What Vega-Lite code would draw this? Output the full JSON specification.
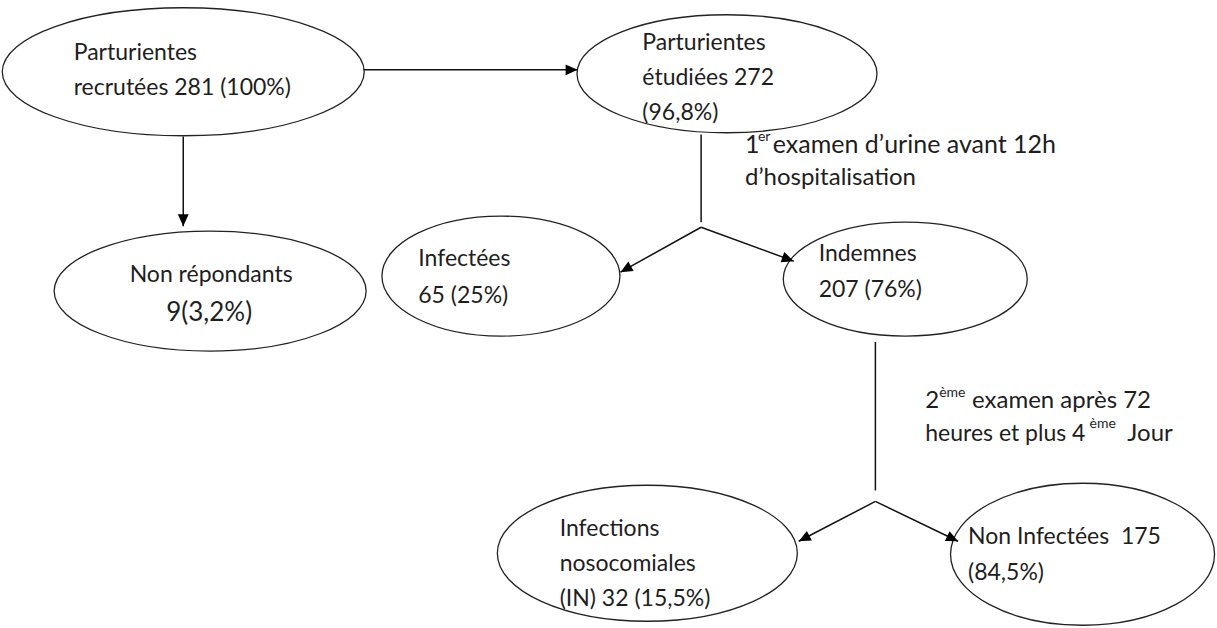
{
  "$schema": "https://vega.github.io/schema/vega-lite/v6.json",
  "width": 1217,
  "height": 628,
  "autosize": {"type": "fit", "contains": "padding"},
  "padding": 0,
  "background": "white",
  "config": {"view": {"stroke": null}},
  "datasets": {
    "nodes": [
      {"id": "recrutees", "x": 182, "y": 72},
      {"id": "etudiees", "x": 728, "y": 74},
      {"id": "nonrep", "x": 209, "y": 292},
      {"id": "infectees", "x": 501, "y": 277},
      {"id": "indemnes", "x": 907, "y": 280},
      {"id": "nosocomiales", "x": 648, "y": 555},
      {"id": "noninfectees", "x": 1085, "y": 556}
    ],
    "edges": [
      {"x": 363, "y": 70, "x2": 578, "y2": 70, "angle": 90},
      {"x": 182, "y": 137, "x2": 182, "y2": 227, "angle": 180},
      {"x": 702, "y": 135, "x2": 702, "y2": 223, "angle": null},
      {"x": 702, "y": 228, "x2": 621, "y2": 273, "angle": 241},
      {"x": 702, "y": 228, "x2": 795, "y2": 262, "angle": 110},
      {"x": 877, "y": 343, "x2": 877, "y2": 492, "angle": null},
      {"x": 877, "y": 503, "x2": 800, "y2": 543, "angle": 242.5},
      {"x": 877, "y": 503, "x2": 960, "y2": 543, "angle": 115.7}
    ],
    "labels": [
      {"t": "Parturientes", "x": 72, "y": 60, "k": "l"},
      {"t": "recrutées 281 (100%)", "x": 72, "y": 95, "k": "l"},
      {"t": "Parturientes", "x": 643, "y": 50, "k": "l"},
      {"t": "étudiées 272", "x": 643, "y": 85, "k": "l"},
      {"t": "(96,8%)", "x": 643, "y": 120, "k": "l"},
      {"t": "Non répondants", "x": 210, "y": 283, "k": "c"},
      {"t": "9(3,2%)", "x": 208, "y": 322, "k": "c2"},
      {"t": "Infectées", "x": 418, "y": 267, "k": "l"},
      {"t": "65 (25%)", "x": 418, "y": 304, "k": "l"},
      {"t": "Indemnes", "x": 820, "y": 262, "k": "l"},
      {"t": "207 (76%)", "x": 820, "y": 298, "k": "l"},
      {"t": "1", "x": 746, "y": 153, "k": "a"},
      {"t": "er", "x": 759, "y": 141, "k": "s"},
      {"t": "examen d’urine avant 12h", "x": 774, "y": 153, "k": "a"},
      {"t": "d’hospitalisation", "x": 746, "y": 186, "k": "b"},
      {"t": "2", "x": 927, "y": 409, "k": "b"},
      {"t": "ème", "x": 941, "y": 398, "k": "s"},
      {"t": "examen après 72", "x": 974, "y": 409, "k": "b"},
      {"t": "heures et plus 4", "x": 927, "y": 442, "k": "l"},
      {"t": "ème", "x": 1092, "y": 429, "k": "s"},
      {"t": "Jour", "x": 1130, "y": 442, "k": "b"},
      {"t": "Infections", "x": 560, "y": 538, "k": "l"},
      {"t": "nosocomiales", "x": 560, "y": 573, "k": "l"},
      {"t": "(IN) 32 (15,5%)", "x": 560, "y": 608, "k": "l"},
      {"t": "Non Infectées\u00a0 175", "x": 970, "y": 546, "k": "l"},
      {"t": "(84,5%)", "x": 970, "y": 582, "k": "l"}
    ]
  },
  "encoding": {
    "x": {"field": "x", "type": "quantitative", "scale": {"domain": [0, 1217], "nice": false, "zero": false}, "axis": null},
    "y": {"field": "y", "type": "quantitative", "scale": {"domain": [0, 628], "nice": false, "zero": false, "reverse": true}, "axis": null}
  },
  "layer": [
    {
      "data": {"name": "nodes"},
      "mark": {"type": "point", "filled": false, "fill": "white", "fillOpacity": 1, "stroke": "#222222", "strokeWidth": 1.3, "opacity": 1, "size": 4},
      "encoding": {
        "shape": {
          "field": "id",
          "type": "nominal",
          "legend": null,
          "scale": {
            "domain": ["recrutees", "etudiees", "nonrep", "infectees", "indemnes", "nosocomiales", "noninfectees"],
            "range": [
              "M-181,0C-181,-35.3,-100,-64,0,-64C100,-64,181,-35.3,181,0C181,35.3,100,64,0,64C-100,64,-181,35.3,-181,0Z",
              "M-150,0C-150,-32.6,-82.8,-59,0,-59C82.8,-59,150,-32.6,150,0C150,32.6,82.8,59,0,59C-82.8,59,-150,32.6,-150,0Z",
              "M-156,0C-156,-33.1,-86.2,-60,0,-60C86.2,-60,156,-33.1,156,0C156,33.1,86.2,60,0,60C-86.2,60,-156,33.1,-156,0Z",
              "M-119,0C-119,-33.1,-65.7,-60,0,-60C65.7,-60,119,-33.1,119,0C119,33.1,65.7,60,0,60C-65.7,60,-119,33.1,-119,0Z",
              "M-122,0C-122,-31.5,-67.4,-57,0,-57C67.4,-57,122,-31.5,122,0C122,31.5,67.4,57,0,57C-67.4,57,-122,31.5,-122,0Z",
              "M-150,0C-150,-37.6,-82.8,-68,0,-68C82.8,-68,150,-37.6,150,0C150,37.6,82.8,68,0,68C-82.8,68,-150,37.6,-150,0Z",
              "M-132,0C-132,-39.2,-72.9,-71,0,-71C72.9,-71,132,-39.2,132,0C132,39.2,72.9,71,0,71C-72.9,71,-132,39.2,-132,0Z"
            ]
          }
        }
      }
    },
    {
      "data": {"name": "edges"},
      "mark": {"type": "rule", "color": "#111111", "strokeWidth": 1.5},
      "encoding": {
        "x2": {"field": "x2"},
        "y2": {"field": "y2"}
      }
    },
    {
      "data": {"name": "edges"},
      "transform": [{"filter": "datum.angle != null"}],
      "mark": {"type": "point", "filled": true, "color": "#000000", "opacity": 1, "size": 576, "shape": "M0,0L-0.45,1L0.45,1Z"},
      "encoding": {
        "x": {"field": "x2", "type": "quantitative"},
        "y": {"field": "y2", "type": "quantitative"},
        "angle": {"field": "angle", "type": "quantitative", "scale": null}
      }
    },
    {
      "data": {"name": "labels"},
      "transform": [{"filter": "datum.k == 'l'"}],
      "mark": {"type": "text", "align": "left", "baseline": "alphabetic", "font": "Lato", "fontSize": 23, "color": "#1e1e1e"},
      "encoding": {"text": {"field": "t"}}
    },
    {
      "data": {"name": "labels"},
      "transform": [{"filter": "datum.k == 'a'"}],
      "mark": {"type": "text", "align": "left", "baseline": "alphabetic", "font": "Lato", "fontSize": 25, "color": "#1e1e1e"},
      "encoding": {"text": {"field": "t"}}
    },
    {
      "data": {"name": "labels"},
      "transform": [{"filter": "datum.k == 'b'"}],
      "mark": {"type": "text", "align": "left", "baseline": "alphabetic", "font": "Lato", "fontSize": 24, "color": "#1e1e1e"},
      "encoding": {"text": {"field": "t"}}
    },
    {
      "data": {"name": "labels"},
      "transform": [{"filter": "datum.k == 'c'"}],
      "mark": {"type": "text", "align": "center", "baseline": "alphabetic", "font": "Lato", "fontSize": 23, "color": "#1e1e1e"},
      "encoding": {"text": {"field": "t"}}
    },
    {
      "data": {"name": "labels"},
      "transform": [{"filter": "datum.k == 'c2'"}],
      "mark": {"type": "text", "align": "center", "baseline": "alphabetic", "font": "Lato", "fontSize": 26, "color": "#1e1e1e"},
      "encoding": {"text": {"field": "t"}}
    },
    {
      "data": {"name": "labels"},
      "transform": [{"filter": "datum.k == 's'"}],
      "mark": {"type": "text", "align": "left", "baseline": "alphabetic", "font": "Lato", "fontSize": 14, "color": "#1e1e1e"},
      "encoding": {"text": {"field": "t"}}
    }
  ]
}
